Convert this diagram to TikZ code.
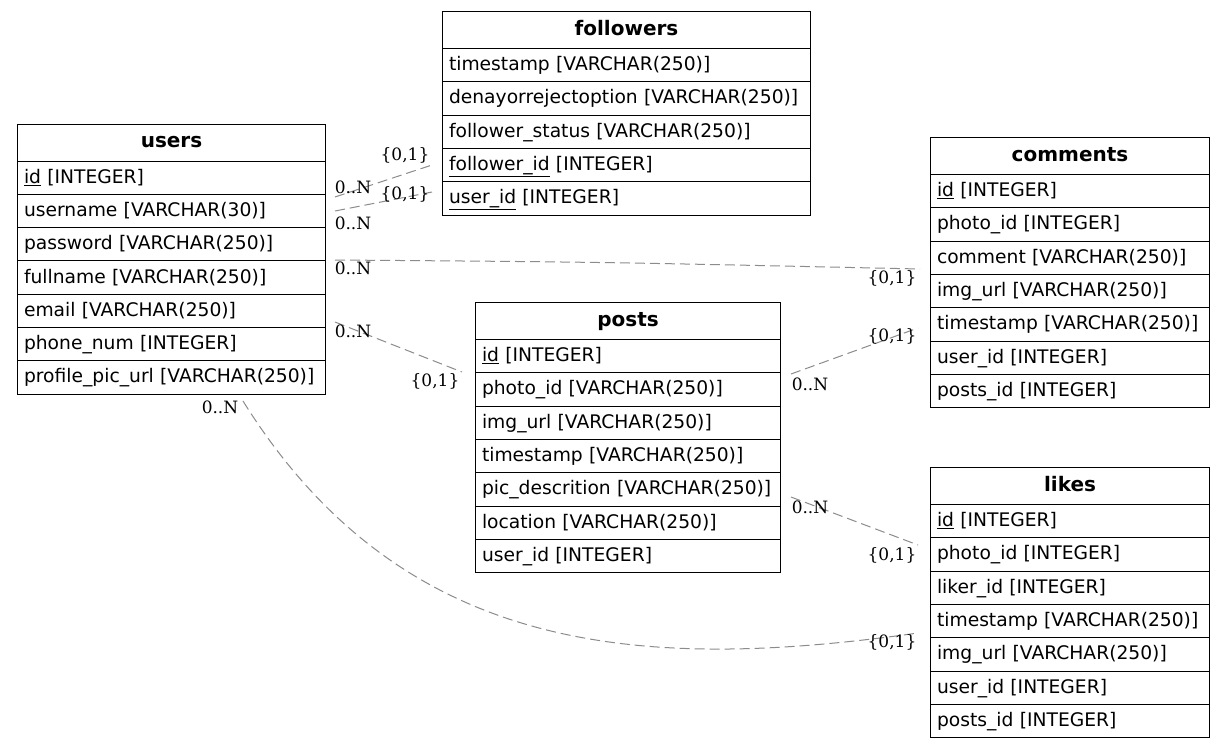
\documentclass[tikz,border=0pt]{standalone}
\usepackage{fontspec}
\setmainfont{DejaVu Sans}
\newfontfamily\cardfont{DejaVu Serif}
\usetikzlibrary{calc}

\definecolor{relgray}{gray}{0.55}

\tikzset{
  tabhead/.style={draw, line width=1pt, anchor=north west, minimum height=37pt,
    inner sep=0pt, text height=14pt, text depth=4pt,
    font=\fontsize{20}{24}\selectfont\bfseries},
  tabrow/.style={draw, line width=1pt, anchor=north west, minimum height=33.3pt,
    inner xsep=6.5pt, inner ysep=0pt, align=left, text height=14.5pt, text depth=3.5pt,
    font=\fontsize{18.7}{22}\selectfont},
  rel/.style={draw=relgray, line width=1pt, dash pattern=on 10pt off 5pt},
  card/.style={font=\cardfont\fontsize{17}{20}\selectfont, inner sep=0pt},
}

% #1 name, #2 left, #3 top, #4 width, #5 title, #6 column rows
\newcommand\ertable[6]{%
  \node[tabhead, minimum width=#4pt] (#1) at (#2,#3) {#5};
  \pgfmathsetmacro\rowtw{#4-13}
  \foreach \rowtext [count=\k] in {#6} {
    \node[tabrow, text width=\rowtw pt] (#1-\k) at (#2,{#3+37+(\k-1)*33.3}) {\rowtext};
  }
}

\begin{document}
\begin{tikzpicture}[x=1pt,y=-1pt]
\fill[white] (0,0) rectangle (1224,748);
\useasboundingbox (0,0) rectangle (1224,748);

% tables
\ertable{users}{17}{123.5}{308}{users}{%
  \underline{id} [INTEGER],
  username [VARCHAR(30)],
  password [VARCHAR(250)],
  fullname [VARCHAR(250)],
  email [VARCHAR(250)],
  phone\_num [INTEGER],
  profile\_pic\_url [VARCHAR(250)]}

\ertable{followers}{442}{11}{368}{followers}{%
  timestamp [VARCHAR(250)],
  denayorrejectoption [VARCHAR(250)],
  follower\_status [VARCHAR(250)],
  \underline{follower\_id} [INTEGER],
  \underline{user\_id} [INTEGER]}

\ertable{comments}{930}{137}{279}{comments}{%
  \underline{id} [INTEGER],
  photo\_id [INTEGER],
  comment [VARCHAR(250)],
  img\_url [VARCHAR(250)],
  timestamp [VARCHAR(250)],
  user\_id [INTEGER],
  posts\_id [INTEGER]}

\ertable{posts}{475}{302}{305}{posts}{%
  \underline{id} [INTEGER],
  photo\_id [VARCHAR(250)],
  img\_url [VARCHAR(250)],
  timestamp [VARCHAR(250)],
  pic\_descrition [VARCHAR(250)],
  location [VARCHAR(250)],
  user\_id [INTEGER]}

\ertable{likes}{930}{467}{279}{likes}{%
  \underline{id} [INTEGER],
  photo\_id [INTEGER],
  liker\_id [INTEGER],
  timestamp [VARCHAR(250)],
  img\_url [VARCHAR(250)],
  user\_id [INTEGER],
  posts\_id [INTEGER]}

% relationship end points
\coordinate (uf1) at (335,197);  \coordinate (fu1) at (432,165);
\coordinate (uf2) at (335,211);  \coordinate (fu2) at (432,192);
\coordinate (uc)  at (335,260);  \coordinate (cu)  at (920,269);
\coordinate (up)  at (335,322);  \coordinate (pu)  at (462,372);
\coordinate (ul)  at (243,401);  \coordinate (lu)  at (918,633);
\coordinate (pc)  at (791,374);  \coordinate (cp)  at (918,328);
\coordinate (pl)  at (791,497);  \coordinate (lp)  at (918,545);

% relationships
\draw[rel] (uf1) -- (fu1);
\draw[rel] (uf2) -- (fu2);
\draw[rel] (uc) .. controls (600,262) .. (cu);
\draw[rel] (up) -- (pu);
\draw[rel] (ul) .. controls (402,656) and (641,672) .. (lu);
\draw[rel] (pc) -- (cp);
\draw[rel] (pl) -- (lp);

% cardinalities
\node[card] (c1a) at (353,187) {0..N};
\node[card] (c1b) at (405,155) {\{0,1\}};
\node[card] (c2a) at (353,223) {0..N};
\node[card] (c2b) at (405,194) {\{0,1\}};
\node[card] (c3a) at (353,268) {0..N};
\node[card] (c3b) at (892,278) {\{0,1\}};
\node[card] (c4a) at (353,331) {0..N};
\node[card] (c4b) at (435,381) {\{0,1\}};
\node[card] (c5a) at (220,407) {0..N};
\node[card] (c5b) at (892,642) {\{0,1\}};
\node[card] (c6a) at (810,384) {0..N};
\node[card] (c6b) at (892,336) {\{0,1\}};
\node[card] (c7a) at (810,507) {0..N};
\node[card] (c7b) at (892,555) {\{0,1\}};
\end{tikzpicture}
\end{document}
